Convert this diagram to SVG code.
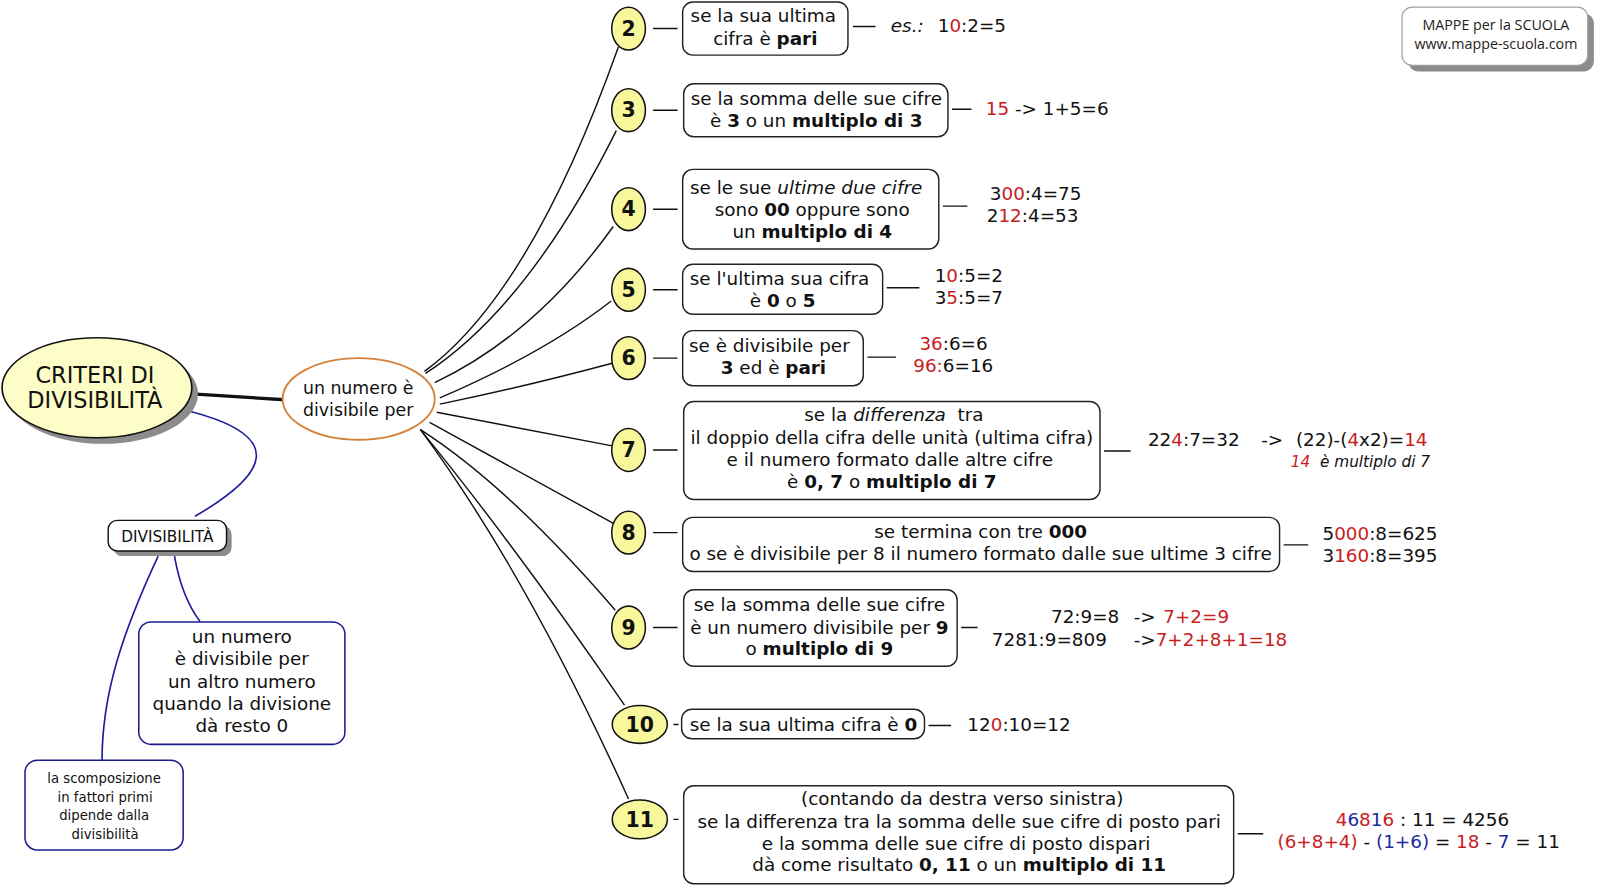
<svg xmlns="http://www.w3.org/2000/svg" width="1600" height="888" viewBox="0 0 1600 888">
<defs>
<style>
.t{font-family:"DejaVu Sans",Verdana,sans-serif;font-size:18px;fill:#111}
.m{text-anchor:middle}
.b{font-weight:bold}
.i{font-style:italic}
.r{fill:#c8201e}
.u{fill:#1c2a9c}
.box{fill:#fff;stroke:#222;stroke-width:1.4}
.bbox{fill:#fff;stroke:#1c1c8c;stroke-width:1.5}
.num{fill:#f9f79c;stroke:#111;stroke-width:1.5}
.nl{font-family:"DejaVu Sans",Verdana,sans-serif;font-size:20px;font-weight:bold;text-anchor:middle;fill:#111}
.c{fill:none;stroke:#111;stroke-width:1.4}
.cb{fill:none;stroke:#1c1c9c;stroke-width:1.6}
.sh{fill:#8c8c8c}
</style>
</defs>
<rect width="1600" height="888" fill="#fff"/>
<g transform="scale(1.0204)">
<g id="connectors">
  <path d="M188,386 L283,392" fill="none" stroke="#111" stroke-width="3.2"/>
  <path class="cb" d="M186,403 C282,428 262,465 191,506"/>
  <path class="cb" d="M155,545 C120,620 100,680 100,745"/>
  <path class="cb" d="M171,545 Q178,585 196,609"/>
  <path class="c" d="M416,364 Q520,288 606,46"/>
  <path class="c" d="M417,366 Q518,300 604,128"/>
  <path class="c" d="M426,375 Q525,328 601,222"/>
  <path class="c" d="M431,390 Q535,345 599,295"/>
  <path class="c" d="M431,396 Q510,380 600,356"/>
  <path class="c" d="M428,404 L600,437"/>
  <path class="c" d="M421,414 L603,514"/>
  <path class="c" d="M412,421 Q498,476 603,598"/>
  <path class="c" d="M412,421 Q505,535 612,691"/>
  <path class="c" d="M412,421 Q515,560 616,783"/>
  <path class="c" d="M640,28 H664 M640,108 H664 M640,205 H664 M640,284 H664 M640,351 H664 M640,441 H664 M640,522 H664 M640,615 H664 M660,710 H665 M660,803 H665"/>
  <path class="c" d="M836,26 H858 M933,107 H952 M924,202 H948 M869,282 H901 M850,350 H878 M1082,442 H1108 M1258,534 H1282 M942,615 H958 M910,711 H932 M1213,817 H1238"/>
</g>

<g id="title">
  <ellipse class="sh" cx="101" cy="386" rx="93" ry="49"/>
  <ellipse cx="95" cy="380" rx="93" ry="49" fill="#fdfdc7" stroke="#111" stroke-width="1.6"/>
  <text class="t m" x="93" y="375" style="font-size:22px">CRITERI DI</text>
  <text class="t m" x="93" y="400" style="font-size:22px">DIVISIBILITÀ</text>
</g>

<g id="divisibile-per">
  <ellipse cx="351.5" cy="391" rx="74.5" ry="40" fill="#fff" stroke="#d4823a" stroke-width="1.8"/>
  <text class="t m" x="351" y="386" style="font-size:17px">un numero è</text>
  <text class="t m" x="351" y="408" style="font-size:17px">divisibile per</text>
</g>

<g id="divisibilita">
  <rect class="sh" x="111" y="515" width="116" height="30" rx="9"/>
  <rect x="106" y="510" width="116" height="30" rx="9" fill="#fff" stroke="#111" stroke-width="1.4"/>
  <text class="t m" x="164" y="531" style="font-size:15px">DIVISIBILITÀ</text>
</g>

<g id="definizione">
  <rect class="bbox" x="136" y="609.5" width="202" height="120" rx="12"/>
  <text class="t m" x="237" y="630">un numero</text>
  <text class="t m" x="237" y="652">è divisibile per</text>
  <text class="t m" x="237" y="674">un altro numero</text>
  <text class="t m" x="237" y="696">quando la divisione</text>
  <text class="t m" x="237" y="717">dà resto 0</text>
</g>

<g id="scomposizione">
  <rect class="bbox" x="24.5" y="745" width="155" height="88" rx="12"/>
  <text class="t m" x="102" y="767" style="font-size:13px">la scomposizione</text>
  <text class="t m" x="103" y="786" style="font-size:13px">in fattori primi</text>
  <text class="t m" x="102" y="804" style="font-size:13px">dipende dalla</text>
  <text class="t m" x="103" y="822" style="font-size:13px">divisibilità</text>
</g>

<g id="logo">
  <rect class="sh" x="1380" y="13" width="182" height="57" rx="10"/>
  <rect x="1374" y="7" width="182" height="57" rx="10" fill="#fff" stroke="#a0a0a0" stroke-width="1.2"/>
  <text x="1466" y="29" text-anchor="middle" style="font-family:'Open Sans','DejaVu Sans',sans-serif;font-size:14px;fill:#222">MAPPE per la SCUOLA</text>
  <text x="1466" y="48" text-anchor="middle" style="font-family:'Open Sans','DejaVu Sans',sans-serif;font-size:14px;fill:#222">www.mappe-scuola.com</text>
</g>

<g id="n2">
  <ellipse class="num" cx="616" cy="28" rx="16.5" ry="21"/>
  <text class="nl" x="616" y="35">2</text>
</g>
<g id="r2">
  <rect class="box" x="669" y="2" width="162" height="52" rx="10"/>
  <text class="t m" x="748" y="22">se la sua ultima</text>
  <text class="t m" x="750" y="44">cifra è <tspan class="b">pari</tspan></text>
</g>
<g id="e2">
  <text class="t" x="873" y="31"><tspan class="i">es.:</tspan><tspan x="919">1</tspan><tspan class="r">0</tspan>:2=5</text>
</g>

<g id="n3">
  <ellipse class="num" cx="616" cy="108" rx="16.5" ry="21"/>
  <text class="nl" x="616" y="115">3</text>
</g>
<g id="r3">
  <rect class="box" x="670" y="82" width="259" height="52" rx="10"/>
  <text class="t m" x="800" y="103">se la somma delle sue cifre</text>
  <text class="t m" x="800" y="124">è <tspan class="b">3</tspan> o un <tspan class="b">multiplo di 3</tspan></text>
</g>
<g id="e3">
  <text class="t" x="966" y="113"><tspan class="r">15</tspan> -&gt; 1+5=6</text>
</g>

<g id="n4">
  <ellipse class="num" cx="616" cy="205" rx="16.5" ry="21"/>
  <text class="nl" x="616" y="212">4</text>
</g>
<g id="r4">
  <rect class="box" x="669" y="166" width="251" height="78" rx="10"/>
  <text class="t m" x="790" y="190">se le sue <tspan class="i">ultime due cifre</tspan></text>
  <text class="t m" x="796" y="212">sono <tspan class="b">00</tspan> oppure sono</text>
  <text class="t m" x="796" y="233">un <tspan class="b">multiplo di 4</tspan></text>
</g>
<g id="e4">
  <text class="t" x="970" y="196">3<tspan class="r">00</tspan>:4=75</text>
  <text class="t" x="967" y="218">2<tspan class="r">12</tspan>:4=53</text>
</g>

<g id="n5">
  <ellipse class="num" cx="616" cy="284" rx="16.5" ry="21"/>
  <text class="nl" x="616" y="291">5</text>
</g>
<g id="r5">
  <rect class="box" x="669" y="259" width="196" height="49" rx="10"/>
  <text class="t m" x="764" y="279">se l'ultima sua cifra</text>
  <text class="t m" x="767" y="301">è <tspan class="b">0</tspan> o <tspan class="b">5</tspan></text>
</g>
<g id="e5">
  <text class="t" x="916" y="276">1<tspan class="r">0</tspan>:5=2</text>
  <text class="t" x="916" y="298">3<tspan class="r">5</tspan>:5=7</text>
</g>

<g id="n6">
  <ellipse class="num" cx="616" cy="351" rx="16.5" ry="21"/>
  <text class="nl" x="616" y="358">6</text>
</g>
<g id="r6">
  <rect class="box" x="669" y="324" width="177" height="54" rx="10"/>
  <text class="t m" x="754" y="345">se è divisibile per</text>
  <text class="t m" x="758" y="367"><tspan class="b">3</tspan> ed è <tspan class="b">pari</tspan></text>
</g>
<g id="e6">
  <text class="t" x="901" y="343"><tspan class="r">36</tspan>:6=6</text>
  <text class="t" x="895" y="365"><tspan class="r">96:</tspan>6=16</text>
</g>

<g id="n7">
  <ellipse class="num" cx="616" cy="441" rx="16.5" ry="21"/>
  <text class="nl" x="616" y="448">7</text>
</g>
<g id="r7">
  <rect class="box" x="670" y="393.5" width="408" height="96" rx="10"/>
  <text class="t m" x="876" y="413">se la <tspan class="i">differenza</tspan>&#160; tra</text>
  <text class="t m" x="874" y="435">il doppio della cifra delle unità (ultima cifra)</text>
  <text class="t m" x="872" y="457">e il numero formato dalle altre cifre</text>
  <text class="t m" x="874" y="478">è <tspan class="b">0, 7</tspan> o <tspan class="b">multiplo di 7</tspan></text>
</g>
<g id="e7">
  <text class="t" x="1125" y="437">22<tspan class="r">4</tspan>:7=32</text>
  <text class="t" x="1236" y="437">-&gt;</text>
  <text class="t" x="1270" y="437">(22)-(<tspan class="r">4</tspan>x2)=<tspan class="r">14</tspan></text>
  <text class="t i" x="1265" y="458" style="font-size:15px"><tspan class="r">14</tspan>&#160; è multiplo di 7</text>
</g>

<g id="n8">
  <ellipse class="num" cx="616" cy="522" rx="16.5" ry="21"/>
  <text class="nl" x="616" y="529">8</text>
</g>
<g id="r8">
  <rect class="box" x="669" y="507" width="585" height="53" rx="10"/>
  <text class="t m" x="961" y="527">se termina con tre <tspan class="b">000</tspan></text>
  <text class="t m" x="961" y="549">o se è divisibile per 8 il numero formato dalle sue ultime 3 cifre</text>
</g>
<g id="e8">
  <text class="t" x="1296" y="529">5<tspan class="r">000</tspan>:8=625</text>
  <text class="t" x="1296" y="551">3<tspan class="r">160</tspan>:8=395</text>
</g>

<g id="n9">
  <ellipse class="num" cx="616" cy="615" rx="16.5" ry="21"/>
  <text class="nl" x="616" y="622">9</text>
</g>
<g id="r9">
  <rect class="box" x="670" y="578" width="268" height="75" rx="10"/>
  <text class="t m" x="803" y="599">se la somma delle sue cifre</text>
  <text class="t m" x="803" y="621">è un numero divisibile per <tspan class="b">9</tspan></text>
  <text class="t m" x="803" y="642">o <tspan class="b">multiplo di 9</tspan></text>
</g>
<g id="e9">
  <text class="t" x="1030" y="611">72:9=8</text>
  <text class="t" x="1111" y="611">-&gt;</text>
  <text class="t r" x="1140" y="611">7+2=9</text>
  <text class="t" x="972" y="633">7281:9=809</text>
  <text class="t" x="1111" y="633">-&gt;<tspan class="r">7+2+8+1=18</tspan></text>
</g>

<g id="n10">
  <ellipse class="num" cx="627" cy="710" rx="27" ry="18.5"/>
  <text class="nl" x="627" y="717">10</text>
</g>
<g id="r10">
  <rect class="box" x="668" y="695" width="238" height="29" rx="10"/>
  <text class="t" x="676" y="716">se la sua ultima cifra è <tspan class="b">0</tspan></text>
</g>
<g id="e10">
  <text class="t" x="948" y="716">12<tspan class="r">0</tspan>:10=12</text>
</g>

<g id="n11">
  <ellipse class="num" cx="627" cy="803" rx="27" ry="19"/>
  <text class="nl" x="627" y="810">11</text>
</g>
<g id="r11">
  <rect class="box" x="670" y="770" width="539" height="96" rx="10"/>
  <text class="t m" x="943" y="789">(contando da destra verso sinistra)</text>
  <text class="t m" x="940" y="811">se la differenza tra la somma delle sue cifre di posto pari</text>
  <text class="t m" x="937" y="833">e la somma delle sue cifre di posto dispari</text>
  <text class="t m" x="940" y="854">dà come risultato <tspan class="b">0, 11</tspan> o un <tspan class="b">multiplo di 11</tspan></text>
</g>
<g id="e11">
  <text class="t" x="1309" y="809"><tspan class="r">4</tspan><tspan class="u">6</tspan><tspan class="r">8</tspan><tspan class="u">1</tspan><tspan class="r">6</tspan> : 11 = 4256</text>
  <text class="t" x="1252" y="831"><tspan class="r">(6+8+4)</tspan> - <tspan class="u">(1+6)</tspan> = <tspan class="r">18</tspan> - <tspan class="u">7</tspan> = 11</text>
</g>
</g>
</svg>
